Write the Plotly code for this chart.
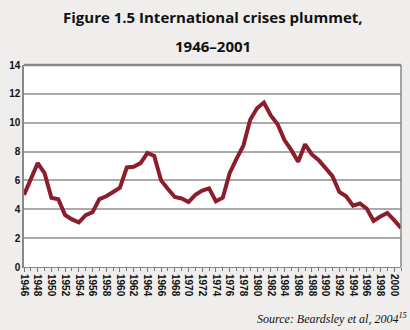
import plotly.graph_objects as go

years = list(range(1946, 2002))
crises = [5.0, 6.1, 7.2, 6.5, 4.8, 4.7, 3.6, 3.3, 3.1, 3.6,
          3.8, 4.7, 4.9, 5.2, 5.5, 6.9, 6.95, 7.2, 7.9, 7.7,
          6.0, 5.4, 4.85, 4.75, 4.5, 5.0, 5.3, 5.45, 4.55, 4.8,
          6.5, 7.5, 8.4, 10.2, 11.0, 11.4, 10.5, 9.9, 8.8, 8.1,
          7.3, 8.5, 7.8, 7.4, 6.8, 6.3, 5.2, 4.9, 4.25, 4.4,
          4.05, 3.2, 3.5, 3.75, 3.25, 2.7]
x_tick_vals = list(range(1946, 2001, 2))
y_tick_vals = [0, 2, 4, 6, 8, 10, 12, 14]
title_lines = ["Figure 1.5 International crises plummet,", "1946–2001"]
source_text = "Source: Beardsley et al, 2004<sup>15</sup>"

fig = go.Figure()
fig.add_trace(go.Scatter(
    x=years, y=crises, mode="lines",
    line=dict(color="#8c1d2c", width=4),
    hoverinfo="skip", showlegend=False,
))

fig.update_layout(
    width=410, height=330,
    margin=dict(l=21, r=9, t=65, b=63),
    paper_bgcolor="#efeeec",
    plot_bgcolor="#ffffff",
    xaxis=dict(
        range=[1946, 2001], tickvals=x_tick_vals,
        ticktext=[str(v) for v in x_tick_vals],
        tickangle=90, ticks="outside", ticklen=4, tickcolor="#777777",
        minor=dict(dtick=1, tick0=1946, ticks="outside", ticklen=3, tickcolor="#777777"),
        showgrid=False, showline=True, linecolor="#888888", linewidth=1,
        mirror=False, zeroline=False,
        tickfont=dict(family="Liberation Sans", size=10, color="#111111", weight="bold"),
        fixedrange=True,
    ),
    yaxis=dict(
        range=[0, 14], tickvals=y_tick_vals,
        showgrid=True, gridcolor="#aaaaaa", gridwidth=1.5,
        showline=True, linecolor="#888888", linewidth=1.5,
        zeroline=False, ticks="",
        tickfont=dict(family="Liberation Sans", size=10, color="#111111", weight="bold"),
        fixedrange=True,
    ),
)

# right border and top line
fig.add_shape(type="line", xref="paper", yref="paper", x0=1, x1=1, y0=0, y1=1,
              line=dict(color="#888888", width=1.5))
fig.add_shape(type="line", xref="paper", yref="paper", x0=0, x1=1, y0=1, y1=1,
              line=dict(color="#888888", width=2.5))

fig.add_annotation(text=title_lines[0], xref="paper", yref="paper",
                   x=0.5, y=1, yshift=48, xanchor="center", yanchor="middle",
                   showarrow=False,
                   font=dict(family="Open Sans", size=15, color="#111111", weight="bold"))
fig.add_annotation(text=title_lines[1], xref="paper", yref="paper",
                   x=0.5, y=1, yshift=19, xanchor="center", yanchor="middle",
                   showarrow=False,
                   font=dict(family="Open Sans", size=15, color="#111111", weight="bold"))
fig.add_annotation(text=source_text, xref="paper", yref="paper",
                   x=1.02, y=0, yshift=-51, xanchor="right", yanchor="middle",
                   showarrow=False,
                   font=dict(family="Liberation Serif", size=12, color="#111111", style="italic"))

fig.write_html("out.html")
